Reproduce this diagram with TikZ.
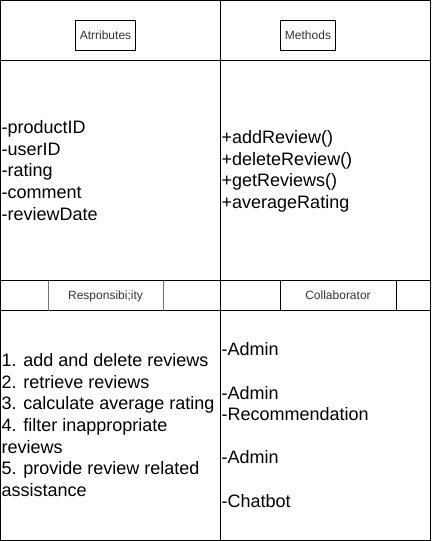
\documentclass[tikz,border=0pt]{standalone}
\usepackage{fontspec}
\setmainfont{Liberation Sans}
\begin{document}
\begin{tikzpicture}[x=1pt,y=-1pt,
  grid/.style={draw=black,line width=1pt},
  lbl/.style={draw=black,line width=1pt,inner sep=0pt,text height=10pt,text depth=2pt,font=\fontsize{12}{14.4}\selectfont,text=black!80},
  body/.style={inner sep=0pt,align=left,anchor=west,font=\fontsize{18}{21.6}\selectfont}]
\useasboundingbox (0,0) rectangle (432,541);
% grid
\draw[grid] (0.5,0.5) rectangle (430.5,540.5);
\draw[grid] (220.5,0.5) -- (220.5,540.5);
\draw[grid] (0.5,60.5) -- (430.5,60.5);
\draw[grid] (0.5,280.5) -- (430.5,280.5);
\draw[grid] (0.5,310.5) -- (430.5,310.5);
% header labels
\node[lbl,minimum width=60pt,minimum height=30pt] (attr) at (105.5,35.5) {Atrributes};
\node[lbl,minimum width=55pt,minimum height=30pt] (meth) at (308,35.5) {Methods};
\node[lbl,draw=none,minimum width=115pt,minimum height=30pt] (resp) at (105.5,295.5) {Responsibi;ity};
\draw[draw=black!55,line width=1pt] (48.5,280.5) -- (48.5,310.5) (163.5,280.5) -- (163.5,310.5);
\node[lbl,minimum width=116pt,minimum height=30pt] (coll) at (338,295.5) {Collaborator};
% bodies
\node[body] (attrs) at (1.5,170.5) {-productID\\-userID\\-rating\\-comment\\-reviewDate};
\node[body] (meths) at (221.5,171.5) {+addReview()\\+deleteReview()\\+getReviews()\\+averageRating};
\node[body] (resps) at (1.5,425) {1. add and delete reviews\\2. retrieve reviews\\3. calculate average rating\\4. filter inappropriate\\reviews\\5. provide review related\\assistance};
\node[body] (colls) at (221.5,425) {-Admin\\~\\-Admin\\-Recommendation\\~\\-Admin\\~\\-Chatbot};
\end{tikzpicture}
\end{document}
